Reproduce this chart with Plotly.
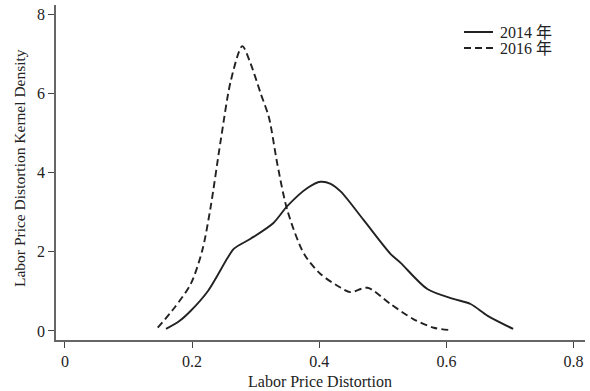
import plotly.graph_objects as go

x2014 = [0.159, 0.180, 0.198, 0.225, 0.256, 0.266, 0.292, 0.328, 0.350, 0.382, 0.402, 0.418, 0.434,
         0.470, 0.512, 0.528, 0.570, 0.611, 0.638, 0.665, 0.705]
y2014 = [0.05, 0.25, 0.51, 1.01, 1.85, 2.08, 2.33, 2.73, 3.16, 3.62, 3.77, 3.72, 3.52,
         2.80, 1.95, 1.72, 1.06, 0.81, 0.68, 0.38, 0.05]

x2016 = [0.146, 0.172, 0.198, 0.216, 0.229, 0.245, 0.261, 0.279, 0.292, 0.308, 0.321, 0.334, 0.350,
         0.376, 0.402, 0.434, 0.449, 0.476, 0.512, 0.548, 0.580, 0.606]
y2016 = [0.08, 0.58, 1.19, 2.03, 3.11, 4.81, 6.33, 7.20, 6.76, 6.00, 5.39, 4.23, 3.04,
         1.95, 1.44, 1.09, 0.98, 1.09, 0.68, 0.30, 0.08, 0.02]

series_names = ["2014 年", "2016 年"]
xticks = [0, 0.2, 0.4, 0.6, 0.8]
yticks = [0, 2, 4, 6, 8]

W, H = 590, 391
ML, MR, MT, MB = 56, 5, 5, 51
PW, PH = W - ML - MR, H - MT - MB

def px(xp):
    return (xp - ML) / PW

def py(yp):
    return (H - MB - yp) / PH

line_color = "#222222"
dash_style = "7px,4px"

fig = go.Figure()
fig.add_trace(go.Scatter(x=x2014, y=y2014, mode="lines", name=series_names[0], showlegend=False,
                         line=dict(color=line_color, width=1.9, shape="spline", smoothing=0.8)))
fig.add_trace(go.Scatter(x=x2016, y=y2016, mode="lines", name=series_names[1], showlegend=False,
                         line=dict(color=line_color, width=1.9, dash=dash_style, shape="spline", smoothing=0.8)))

font_fam = "'Liberation Serif', 'Noto Sans CJK SC', serif"

# manual legend
leg_rows = [(32, None), (48, "dash")]
for (yc, dsh), name in zip(leg_rows, series_names):
    fig.add_shape(type="line", xref="paper", yref="paper", x0=px(464), x1=px(493), y0=py(yc), y1=py(yc),
                  line=dict(color=line_color, width=2, dash=dash_style if dsh else "solid"))
    fig.add_annotation(xref="paper", yref="paper", x=px(498), y=py(yc), text=name, showarrow=False,
                       xanchor="left", yanchor="middle", font=dict(family=font_fam, size=16, color=line_color))

# axis titles
fig.add_annotation(xref="paper", yref="paper", x=px(320), y=py(381), text="Labor Price Distortion",
                   showarrow=False, xanchor="center", yanchor="middle",
                   font=dict(family=font_fam, size=16, color=line_color))
fig.add_annotation(xref="paper", yref="paper", x=px(19), y=py(168), text="Labor Price Distortion Kernel Density",
                   showarrow=False, textangle=-90, xanchor="center", yanchor="middle",
                   font=dict(family=font_fam, size=15.5, color=line_color))

fig.update_layout(
    width=W, height=H,
    margin=dict(l=ML, r=MR, t=MT, b=MB, autoexpand=False),
    paper_bgcolor="white", plot_bgcolor="white",
    font=dict(family=font_fam, size=16, color=line_color),
    showlegend=False,
)
fig.update_xaxes(range=[-0.014, 0.818], tickvals=xticks, ticktext=[str(v) for v in xticks],
                 showgrid=False, zeroline=False, showline=True, linecolor="#666666", linewidth=1.5,
                 ticks="outside", ticklen=6, tickcolor="#444444", tickwidth=1, automargin=False)
fig.update_yaxes(range=[-0.23, 8.24], tickvals=yticks,
                 showgrid=False, zeroline=False, showline=True, linecolor="#666666", linewidth=1.5,
                 ticks="outside", ticklen=6, tickcolor="#444444", tickwidth=1, automargin=False)

fig.write_html("out.html", config={"displayModeBar": False},
               post_script="document.body.style.margin='0';document.body.style.overflow='hidden';")
